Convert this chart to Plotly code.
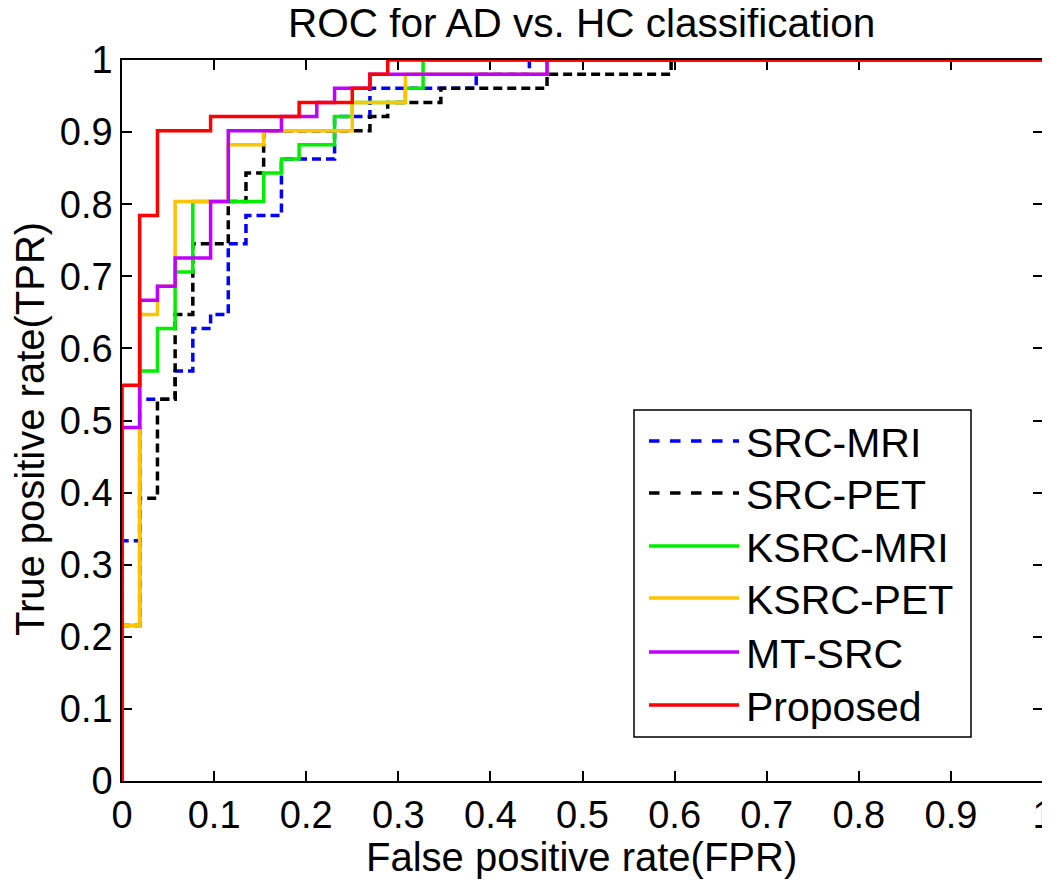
import plotly.graph_objects as go

# ---------------- data (ROC corner points: top of each vertical step) ----------------
series_names = ["SRC-MRI", "SRC-PET", "KSRC-MRI", "KSRC-PET", "MT-SRC", "Proposed"]

fpr_src_mri = [0, 0, 0.0192, 0.0577, 0.0769, 0.0962, 0.1154, 0.1346, 0.1731, 0.2308, 0.2692, 0.3846, 0.4423, 1]
tpr_src_mri = [0, 0.3333, 0.5294, 0.5686, 0.6275, 0.6471, 0.7451, 0.7843, 0.8627, 0.9216, 0.9608, 0.9804, 1, 1]

fpr_src_pet = [0, 0, 0.0192, 0.0385, 0.0577, 0.0769, 0.1154, 0.1346, 0.1538, 0.2692, 0.2885, 0.3462, 0.4615, 0.5962, 1]
tpr_src_pet = [0, 0.2157, 0.3922, 0.5294, 0.6471, 0.7451, 0.8039, 0.8431, 0.9020, 0.9216, 0.9412, 0.9608, 0.9804, 1, 1]

fpr_ksrc_mri = [0, 0, 0.0192, 0.0385, 0.0577, 0.0769, 0.1538, 0.1731, 0.1923, 0.2308, 0.25, 0.3077, 0.3269, 1]
tpr_ksrc_mri = [0, 0.2157, 0.5686, 0.6275, 0.7059, 0.8039, 0.8431, 0.8627, 0.8824, 0.9216, 0.9412, 0.9608, 1, 1]

fpr_ksrc_pet = [0, 0, 0.0192, 0.0385, 0.0577, 0.1154, 0.1538, 0.25, 0.3077, 0.4615, 1]
tpr_ksrc_pet = [0, 0.2157, 0.6471, 0.6863, 0.8039, 0.8824, 0.9020, 0.9412, 0.9804, 1, 1]

fpr_mt_src = [0, 0, 0.0192, 0.0385, 0.0577, 0.0962, 0.1154, 0.1731, 0.2115, 0.2308, 0.2692, 0.4615, 1]
tpr_mt_src = [0, 0.4902, 0.6667, 0.6863, 0.7255, 0.8039, 0.9020, 0.9216, 0.9412, 0.9608, 0.9804, 1, 1]

fpr_proposed = [0, 0, 0.0192, 0.0385, 0.0962, 0.1923, 0.25, 0.2692, 0.2885, 1]
tpr_proposed = [0, 0.5490, 0.7843, 0.9020, 0.9216, 0.9412, 0.9608, 0.9804, 1, 1]

tick_vals = [0, 0.1, 0.2, 0.3, 0.4, 0.5, 0.6, 0.7, 0.8, 0.9, 1]
tick_text = ["0", "0.1", "0.2", "0.3", "0.4", "0.5", "0.6", "0.7", "0.8", "0.9", "1"]

# ---------------- styles ----------------
colors = ["#0000FF", "#000000", "#00EE00", "#FFC400", "#BF00FF", "#FF0000"]
dashes = ["9px,5px", "9px,5px", "solid", "solid", "solid", "solid"]
xs = [fpr_src_mri, fpr_src_pet, fpr_ksrc_mri, fpr_ksrc_pet, fpr_mt_src, fpr_proposed]
ys = [tpr_src_mri, tpr_src_pet, tpr_ksrc_mri, tpr_ksrc_pet, tpr_mt_src, tpr_proposed]

FONT = "Liberation Sans, Arial, sans-serif"

fig = go.Figure()
for name, x, y, c, d in zip(series_names, xs, ys, colors, dashes):
    fig.add_trace(go.Scatter(x=x, y=y, mode="lines", name=name,
                             line=dict(color=c, width=3.5, dash=d, shape="hv"),
                             showlegend=False))

# ---------------- layout helpers (screen pixel -> paper) ----------------
# the page body has an 8px margin, so the figure is drawn shifted by 8px
OFF = 8
W, H = 1050, 881
L, R, T, B = 122, 1043, 60, 781      # plot area in screen pixels
def px(xp):
    return (xp - L) / (R - L)
def py(yp):
    return (B - yp) / (B - T)

# ---------------- custom MATLAB-like legend ----------------
shapes = [dict(type="rect", xref="paper", yref="paper",
               x0=px(634), x1=px(971), y0=py(737), y1=py(410),
               line=dict(color="black", width=1.5), fillcolor="white", layer="above")]
annotations = []
row_y = [441, 493, 546, 598, 652, 705]
for name, c, d, ry in zip(series_names, colors, dashes, row_y):
    shapes.append(dict(type="line", xref="paper", yref="paper",
                       x0=px(649), x1=px(739), y0=py(ry), y1=py(ry),
                       line=dict(color=c, width=3.5, dash="dash" if d != "solid" else "solid"),
                       layer="above"))
    annotations.append(dict(xref="paper", yref="paper", x=px(744), y=py(ry + 2),
                            text=name, showarrow=False, xanchor="left", yanchor="middle",
                            font=dict(family=FONT, size=41, color="black")))

# title and axis titles
annotations.append(dict(xref="paper", yref="paper", x=px(581), y=py(23),
                        text="ROC for AD vs. HC classification", showarrow=False,
                        xanchor="center", yanchor="middle",
                        font=dict(family=FONT, size=40.5, color="black")))
annotations.append(dict(xref="paper", yref="paper", x=px(581), y=py(857),
                        text="False positive rate(FPR)", showarrow=False,
                        xanchor="center", yanchor="middle",
                        font=dict(family=FONT, size=40, color="black")))
annotations.append(dict(xref="paper", yref="paper", x=px(30), y=py(429),
                        text="True positive rate(TPR)", showarrow=False, textangle=-90,
                        xanchor="center", yanchor="middle",
                        font=dict(family=FONT, size=40, color="black")))

fig.update_layout(
    width=W, height=H,
    margin=dict(l=L - OFF, r=W - (R - OFF), t=T - OFF, b=H - (B - OFF), autoexpand=False),
    paper_bgcolor="white", plot_bgcolor="white",
    font=dict(family=FONT, size=38, color="black"),
    shapes=shapes, annotations=annotations,
    showlegend=False,
)
axis_common = dict(range=[0, 1], tickvals=tick_vals, ticktext=tick_text,
                   showgrid=False, zeroline=False, showline=True, linecolor="black",
                   linewidth=1.5, mirror="ticks", ticks="inside", ticklen=10,
                   tickwidth=1.5, tickcolor="black", layer="below traces",
                   automargin=False,
                   tickfont=dict(family=FONT, size=38, color="black"))
fig.update_xaxes(**axis_common)
fig.update_yaxes(**axis_common)

fig.write_html("out.html")
